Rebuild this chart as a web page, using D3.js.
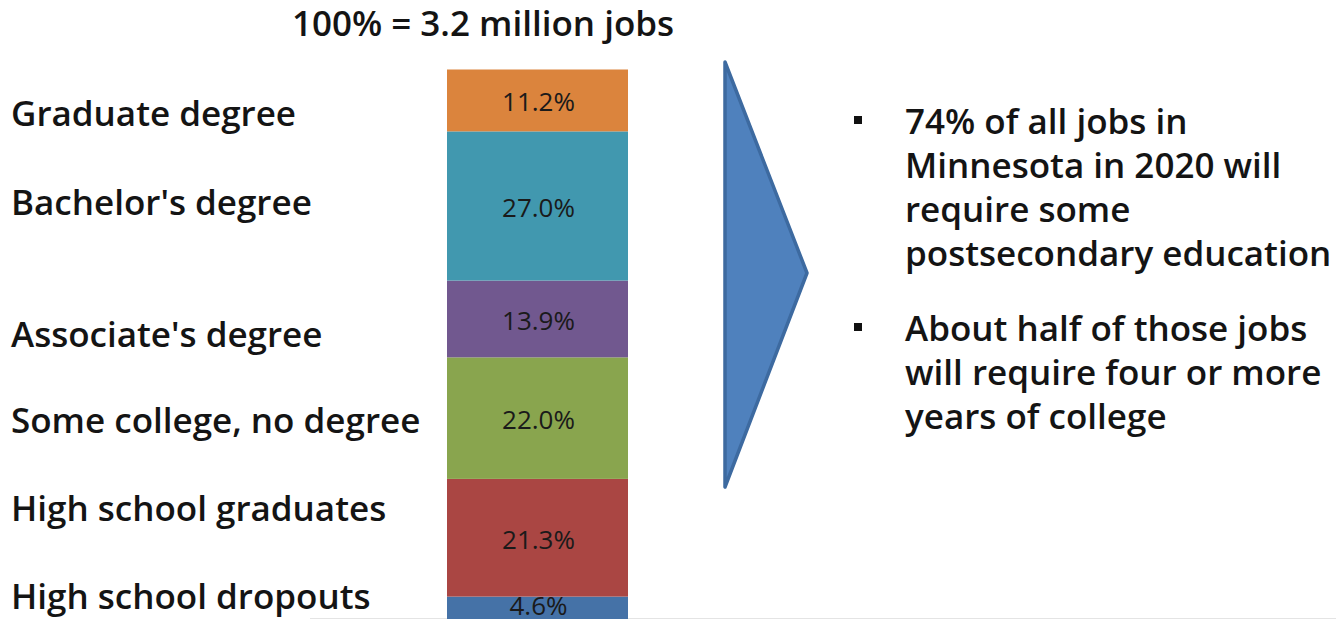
<!DOCTYPE html>
<html><head><meta charset="utf-8">
<script src="https://cdn.jsdelivr.net/npm/d3@7"></script>
<style>html,body{margin:0;padding:0;background:#fff;overflow:hidden}</style>
</head><body>
<svg id="c" width="1336" height="619"></svg>
<script>
// Data (top segment first)
const categories = ["Graduate degree","Bachelor's degree","Associate's degree","Some college, no degree","High school graduates","High school dropouts"];
const shares = [11.2, 27.0, 13.9, 22.0, 21.3, 4.6];
const valueLabels = ["11.2%","27.0%","13.9%","22.0%","21.3%","4.6%"];
const colors = ["#db843d","#4198af","#71588f","#89a54e","#aa4643","#4572a7"];
const title = "100% = 3.2 million jobs";
const bullets = [
  ["74% of all jobs in","Minnesota in 2020 will","require some","postsecondary education"],
  ["About half of those jobs","will require four or more","years of college"]
];

// Layout
const labelY = [112, 201, 333, 419, 507, 595];
const font = "'Open Sans', 'Noto Sans', sans-serif";
const svg = d3.select("#c");
const barX = 447, barW = 181, barTop = 69.5, barBottom = 622;
const y = d3.scaleLinear().domain([0, 100]).range([barBottom, barTop]);

// stack from bottom
const rev = shares.map((v,i)=>({v,i})).reverse();
let acc = 0;
const segs = rev.map(d => { const s = {i:d.i, y0:acc, y1:acc+d.v}; acc += d.v; return s; });

svg.append("line").attr("x1",310).attr("x2",1336).attr("y1",618.5).attr("y2",618.5)
  .attr("stroke","#e4e4e4").attr("stroke-width",1);

const g = svg.append("g");
g.selectAll("rect").data(segs).join("rect")
  .attr("x", barX).attr("width", barW)
  .attr("y", d => y(d.y1)).attr("height", d => y(d.y0) - y(d.y1))
  .attr("fill", d => colors[d.i]);

g.selectAll("text.v").data(segs).join("text").attr("class","v")
  .attr("x", barX + barW/2 + 1)
  .attr("y", d => Math.min((y(d.y0) + y(d.y1))/2 + 1, 605))
  .attr("text-anchor","middle").attr("dominant-baseline","central")
  .attr("font-family", font).attr("font-size", 26).attr("fill","#1a1a1a")
  .text(d => valueLabels[d.i]);

const txtW = 600, txtSize = 35;
svg.selectAll("text.cat").data(categories).join("text").attr("class","cat")
  .attr("x", 11).attr("y", (d,i) => labelY[i])
  .attr("dominant-baseline","central")
  .attr("font-family", font).attr("font-size", txtSize).attr("font-weight", txtW).attr("fill","#141414")
  .text(d => d);

svg.append("text").attr("x", 483).attr("y", 22)
  .attr("text-anchor","middle").attr("dominant-baseline","central")
  .attr("font-family", font).attr("font-size", txtSize).attr("font-weight", txtW).attr("fill","#141414")
  .text(title);

// arrow
svg.append("path")
  .attr("d", "M725,62 L807,273 L725,487 Z")
  .attr("fill","#4f81bd").attr("stroke","#3d6aa0").attr("stroke-width",3.5)
  .attr("stroke-linejoin","round");

// bullets
const lineH = 44;
const starts = [120, 327];
bullets.forEach((lines, b) => {
  svg.append("rect").attr("x", 854).attr("y", starts[b]-4).attr("width", 8).attr("height", 8).attr("fill","#111");
  lines.forEach((t, k) => {
    svg.append("text").attr("x", 905).attr("y", starts[b] + k*lineH)
      .attr("dominant-baseline","central")
      .attr("font-family", font).attr("font-size", txtSize).attr("font-weight", txtW).attr("fill","#141414")
      .text(t);
  });
});
</script>
</body></html>
